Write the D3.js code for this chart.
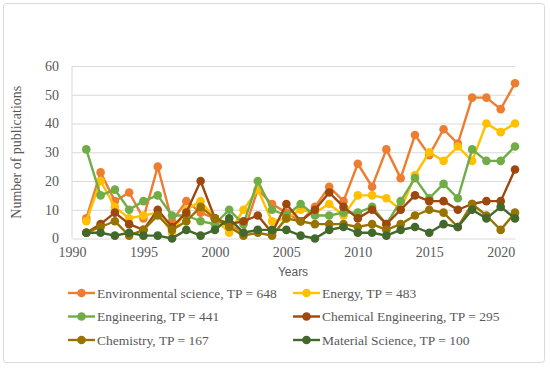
<!DOCTYPE html>
<html>
<head>
<meta charset="utf-8">
<script src="https://cdn.jsdelivr.net/npm/d3@7"></script>
<style>
  body { margin: 0; background: #fff; }
  svg text { fill: #595959; }
</style>
</head>
<body>
<div id="chart"></div>
<script>
// chart data
const years = d3.range(1991, 2022);
const seriesNames = [
  'Environmental science, TP = 648',
  'Energy, TP = 483',
  'Engineering, TP = 441',
  'Chemical Engineering, TP = 295',
  'Chemistry, TP = 167',
  'Material Science, TP = 100'
];
const envScience = [7, 23, 13, 16, 7, 25, 6, 13, 9, 7, 5, 2, 17, 12, 9, 6, 11, 18, 13, 26, 18, 31, 21, 36, 29, 38, 33, 49, 49, 45, 54];
const energy = [6, 20, 11, 7, 8, 9, 2, 10, 13, 7, 2, 10, 17, 6, 7, 10, 9, 12, 8, 15, 15, 14, 10, 22, 30, 27, 32, 27, 40, 37, 40];
const engineering = [31, 15, 17, 10, 13, 15, 8, 8, 6, 5, 10, 5, 20, 10, 8, 12, 8, 8, 9, 9, 11, 5, 13, 21, 14, 19, 14, 31, 27, 27, 32];
const chemEngineering = [2, 5, 9, 5, 3, 10, 4, 9, 20, 7, 5, 6, 8, 2, 12, 6, 10, 16, 11, 7, 10, 5, 10, 15, 13, 13, 10, 12, 13, 13, 24];
const chemistry = [2, 4, 6, 1, 3, 8, 3, 6, 11, 7, 4, 1, 2, 1, 7, 6, 5, 5, 5, 4, 5, 3, 5, 8, 10, 9, 4, 12, 8, 3, 9];
const materialScience = [2, 2, 1, 2, 1, 1, 0, 3, 1, 3, 7, 2, 3, 3, 3, 1, 0, 3, 4, 2, 2, 1, 3, 4, 2, 5, 4, 10, 7, 11, 7];
const colors = ['#ED7D31', '#FFC000', '#70AD47', '#9E480E', '#997300', '#43682B'];
const xTicks = [1990, 1995, 2000, 2005, 2010, 2015, 2020];
const yTicks = [0, 10, 20, 30, 40, 50, 60];

const allSeries = [envScience, energy, engineering, chemEngineering, chemistry, materialScience];

const width = 550;
const height = 368;
const margin = { top: 66, right: 35, bottom: 129.5, left: 72 };

const svg = d3.select('#chart').append('svg')
  .attr('width', width)
  .attr('height', height);

svg.append('rect')
  .attr('x', 3.5).attr('y', 3.5)
  .attr('width', 541).attr('height', 359)
  .attr('rx', 3)
  .attr('fill', '#fff')
  .attr('stroke', '#D9D9D9');

const x = d3.scaleLinear()
  .domain([1990, 2021])
  .range([margin.left, width - margin.right]);

const y = d3.scaleLinear()
  .domain([0, 60])
  .range([height - margin.bottom, margin.top]);

// gridlines
svg.append('g')
  .attr('transform', `translate(${margin.left},0)`)
  .call(d3.axisLeft(y).tickValues(yTicks.slice(1)).tickSize(-(x.range()[1] - margin.left)).tickFormat(''))
  .call(g => g.select('.domain').remove())
  .call(g => g.selectAll('line').attr('stroke', '#D9D9D9'));

// left axis line
svg.append('line')
  .attr('x1', margin.left).attr('x2', margin.left)
  .attr('y1', y(60)).attr('y2', y(0))
  .attr('stroke', '#D9D9D9');

// y axis labels
svg.append('g')
  .attr('transform', `translate(${margin.left},0)`)
  .call(d3.axisLeft(y).tickValues(yTicks).tickSize(0).tickPadding(13))
  .call(g => g.select('.domain').remove())
  .call(g => g.selectAll('text')
    .attr('font-family', 'Liberation Serif')
    .attr('font-size', 14));

// x axis
svg.append('g')
  .attr('transform', `translate(0,${y(0)})`)
  .call(d3.axisBottom(x).tickValues(xTicks).tickFormat(d3.format('d')).tickSize(0).tickPadding(9))
  .call(g => g.select('.domain').attr('stroke', '#D9D9D9'))
  .call(g => g.selectAll('text')
    .attr('font-family', 'Liberation Serif')
    .attr('font-size', 14));

svg.append('text')
  .attr('x', 293)
  .attr('y', 276)
  .attr('text-anchor', 'middle')
  .attr('font-family', 'Liberation Sans')
  .attr('font-size', 12)
  .text('Years');

svg.append('text')
  .attr('transform', `translate(21,${(y(0) + y(60)) / 2}) rotate(-90)`)
  .attr('text-anchor', 'middle')
  .attr('font-family', 'Liberation Serif')
  .attr('font-size', 14)
  .text('Number of publications');

const line = d3.line()
  .x((d, i) => x(years[i]))
  .y(d => y(d));

allSeries.forEach((values, s) => {
  const g = svg.append('g');
  g.append('path')
    .datum(values)
    .attr('fill', 'none')
    .attr('stroke', colors[s])
    .attr('stroke-width', 2.4)
    .attr('stroke-linejoin', 'round')
    .attr('d', line);
  g.selectAll('circle')
    .data(values)
    .join('circle')
    .attr('cx', (d, i) => x(years[i]))
    .attr('cy', d => y(d))
    .attr('r', 4.3)
    .attr('fill', colors[s]);
});

// legend
const legend = svg.append('g')
  .attr('font-family', 'Liberation Serif')
  .attr('font-size', 13.5);

seriesNames.forEach((name, i) => {
  const lx = i % 2 === 0 ? 68 : 293;
  const ly = 293 + Math.floor(i / 2) * 23.5;
  const item = legend.append('g').attr('transform', `translate(${lx},${ly})`);
  item.append('line')
    .attr('x1', 0).attr('x2', 27)
    .attr('stroke', colors[i])
    .attr('stroke-width', 2.4);
  item.append('circle')
    .attr('cx', 13.5)
    .attr('r', 4.3)
    .attr('fill', colors[i]);
  item.append('text')
    .attr('x', 29)
    .attr('dy', '0.35em')
    .text(name);
});
</script>
</body>
</html>
